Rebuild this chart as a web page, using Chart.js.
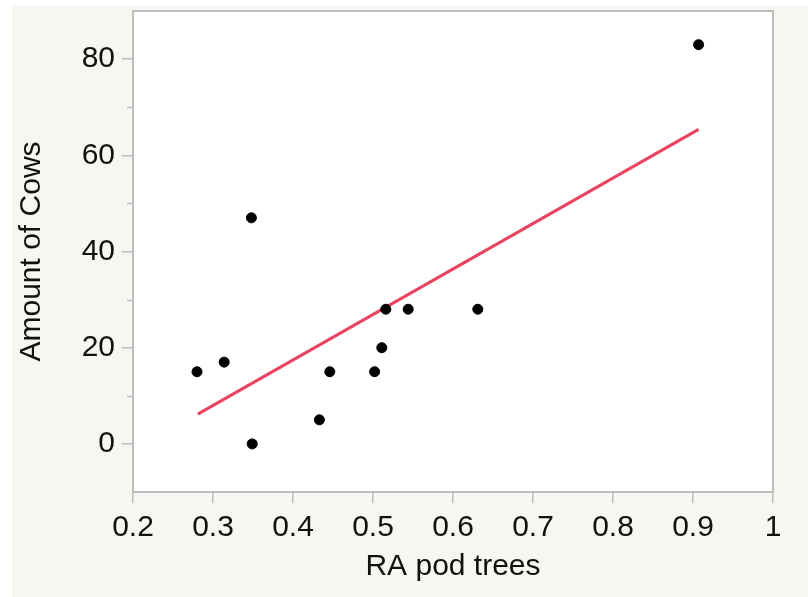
<!DOCTYPE html>
<html>
<head>
<meta charset="utf-8">
<script src="https://cdn.jsdelivr.net/npm/chart.js@4/dist/chart.umd.min.js"></script>
<style>
  html, body { margin: 0; padding: 0; background: #ffffff; }
  #wrap { width: 808px; height: 597px; }
</style>
</head>
<body>
<div id="wrap"><canvas id="chart" width="808" height="597"></canvas></div>
<script>
// RA pod trees vs amount of cows
const raPodTrees = [0.28, 0.314, 0.348, 0.349, 0.433, 0.446, 0.502, 0.511, 0.516, 0.544, 0.631, 0.907];
const amountOfCows = [15, 17, 47, 0, 5, 15, 15, 20, 28, 28, 28, 83];

// fitted line end points
const fitX = [0.281, 0.907];
const fitY = [6.2, 65.4];

const xTicks = [0.2, 0.3, 0.4, 0.5, 0.6, 0.7, 0.8, 0.9, 1];
const yTicks = [0, 20, 40, 60, 80];
const yMinorTicks = [10, 30, 50, 70];

const axisGray = "#bdbdbd";
const font = { family: "'Liberation Sans', Arial, sans-serif", size: 30 };

// page background + plot frame + minor y ticks
const framePlugin = {
  id: "frame",
  beforeDraw(chart) {
    const { ctx, chartArea: a } = chart;
    ctx.save();
    ctx.fillStyle = "#f7f7f2";
    ctx.fillRect(12, 6, chart.width - 12, chart.height - 6);
    ctx.fillStyle = "#ffffff";
    ctx.fillRect(a.left, a.top, a.right - a.left, a.bottom - a.top);
    ctx.restore();
  },
  afterDraw(chart) {
    const { ctx, chartArea: a } = chart;
    const y = chart.scales.y;
    ctx.save();
    ctx.strokeStyle = axisGray;
    ctx.lineWidth = 2;
    ctx.strokeRect(a.left, a.top, a.right - a.left, a.bottom - a.top);
    ctx.lineWidth = 1.5;
    yMinorTicks.forEach(v => {
      const py = Math.round(y.getPixelForValue(v)) + 0.5;
      ctx.beginPath();
      ctx.moveTo(a.left - 6, py);
      ctx.lineTo(a.left, py);
      ctx.stroke();
    });
    ctx.restore();
  }
};

const points = raPodTrees.map((x, i) => ({ x: x, y: amountOfCows[i] }));
const fitLine = fitX.map((x, i) => ({ x: x, y: fitY[i] }));

new Chart(document.getElementById("chart"), {
  type: "scatter",
  data: {
    datasets: [
      {
        type: "line",
        data: fitLine,
        borderColor: "#e8445f",
        borderWidth: 3,
        pointRadius: 0,
        fill: false,
        order: 2
      },
      {
        data: points,
        backgroundColor: "#000000",
        borderColor: "#000000",
        pointRadius: 5,
        order: 1
      }
    ]
  },
  options: {
    responsive: false,
    animation: false,
    layout: { padding: { left: 0, top: 11, right: 35, bottom: 0 } },
    plugins: {
      legend: { display: false },
      tooltip: { enabled: false }
    },
    scales: {
      x: {
        type: "linear",
        min: 0.2,
        max: 1,
        afterBuildTicks: s => { s.ticks = xTicks.map(v => ({ value: v })); },
        afterFit: s => { s.height = 105; s.paddingLeft = 0; s.paddingRight = 0; },
        grid: { drawOnChartArea: false, color: axisGray, tickLength: 11, lineWidth: 1.5 },
        border: { color: axisGray, width: 2 },
        ticks: {
          color: "#111111",
          font: font,
          padding: 7,
          maxRotation: 0,
          callback: v => String(Math.round(v * 10) / 10)
        },
        title: {
          display: true,
          text: "RA pod trees",
          color: "#111111",
          font: font,
          padding: { top: 0, bottom: 12 }
        }
      },
      y: {
        type: "linear",
        min: -10,
        max: 90,
        afterBuildTicks: s => { s.ticks = yTicks.map(v => ({ value: v })); },
        afterFit: s => { s.width = 133; s.paddingTop = 0; s.paddingBottom = 0; },
        grid: { drawOnChartArea: false, color: axisGray, tickLength: 11, lineWidth: 1.5 },
        border: { color: axisGray, width: 2 },
        ticks: {
          color: "#111111",
          font: font,
          padding: 7
        },
        title: {
          display: true,
          text: "Amount of Cows",
          color: "#111111",
          font: font,
          padding: { top: 14, bottom: 0 }
        }
      }
    }
  },
  plugins: [framePlugin]
});
</script>
</body>
</html>
